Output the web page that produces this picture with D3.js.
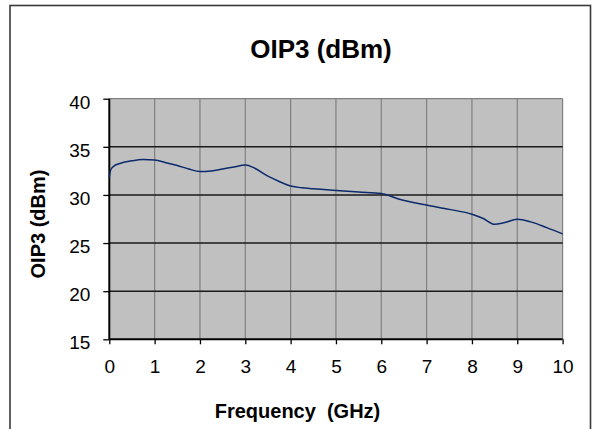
<!DOCTYPE html>
<html><head><meta charset="utf-8">
<script src="https://cdn.jsdelivr.net/npm/d3@7"></script>
<style>body{margin:0;background:#fff}svg{display:block}text{font-family:"Liberation Sans",Arial,sans-serif;fill:#000}</style>
</head><body><svg id="c" width="592" height="429"></svg>
<script>
const chartTitle = "OIP3 (dBm)";
const xTitle = "Frequency  (GHz)";
const yTitle = "OIP3 (dBm)";
const xTicks = [0,1,2,3,4,5,6,7,8,9,10];
const yTicks = [15,20,25,30,35,40];
const freq = [0,0.03,0.1,0.25,0.5,0.75,1,1.25,1.5,1.75,2,2.25,2.5,2.75,3,3.2,3.5,3.75,4,4.25,4.5,5,5.5,6,6.4,7,7.5,8,8.25,8.5,8.7,9,9.3,9.65,10];
const oip3 = [31.8,32.6,33.0,33.3,33.55,33.68,33.62,33.35,33.05,32.7,32.43,32.5,32.7,32.9,33.1,32.8,31.95,31.4,30.93,30.74,30.65,30.47,30.3,30.15,29.55,28.95,28.5,28.0,27.55,26.95,27.1,27.48,27.2,26.6,25.95];

const svg = d3.select("#c");
const L = 109.3, R = 562.6, T = 98.7, B = 339.3;
const x = d3.scaleLinear().domain([0,10]).range([L,R]);
const y = d3.scaleLinear().domain([15,40]).range([B,T]);

svg.append("rect").attr("x",10).attr("y",5.5).attr("width",580.5).attr("height",440)
  .attr("fill","#fff").attr("stroke","#3a3a3a").attr("stroke-width",1.6);

svg.append("rect").attr("x",L).attr("y",T).attr("width",R-L).attr("height",B-T).attr("fill","#c0c0c0");

// vertical gridlines
svg.append("g").selectAll("line").data(xTicks.slice(1)).join("line")
  .attr("x1",d=>x(d)).attr("x2",d=>x(d)).attr("y1",T).attr("y2",B)
  .attr("stroke","#808080").attr("stroke-width",1.2);
// top border
svg.append("line").attr("x1",L).attr("x2",R).attr("y1",T).attr("y2",T).attr("stroke","#808080").attr("stroke-width",1.2);
// horizontal gridlines
svg.append("g").selectAll("line").data(yTicks.slice(1,-1)).join("line")
  .attr("x1",L).attr("x2",R).attr("y1",d=>y(d)).attr("y2",d=>y(d))
  .attr("stroke","#1a1a1a").attr("stroke-width",1.4);

// axes
const xAxis = svg.append("g").attr("transform",`translate(0,${B})`)
  .call(d3.axisBottom(x).tickValues(xTicks).tickSize(5).tickPadding(15).tickFormat(d3.format("d")));
const yAxis = svg.append("g").attr("transform",`translate(${L},0)`)
  .call(d3.axisLeft(y).tickValues(yTicks).tickSize(6).tickPadding(13).tickFormat(d3.format("d")));
[xAxis,yAxis].forEach(a=>{
  a.select(".domain").attr("stroke","#000").attr("stroke-width",2);
  a.selectAll(".tick line").attr("stroke","#000").attr("stroke-width",1.3);
  a.selectAll("text").attr("font-size",19).attr("font-family","Liberation Sans, Arial, sans-serif").attr("fill","#000");
});
yAxis.selectAll("text").attr("dy","0.5em");
yAxis.select(".domain").attr("d",`M0,${T}V${B}`);
xAxis.select(".domain").attr("d",`M${L},0H${R}`);

// data line
const line = d3.line().x((d,i)=>x(freq[i])).y(d=>y(d)).curve(d3.curveMonotoneX);
svg.append("path").datum(oip3).attr("d",line).attr("fill","none")
  .attr("stroke","#0b2a6b").attr("stroke-width",1.5);

// titles
svg.append("text").attr("x",321).attr("y",58).attr("text-anchor","middle")
  .attr("font-size",26).attr("font-weight","bold").text(chartTitle);
svg.append("text").attr("x",297.5).attr("y",418).attr("text-anchor","middle")
  .attr("font-size",20).attr("font-weight","bold").style("white-space","pre").text(xTitle);
svg.append("text").attr("transform","translate(45,224) rotate(-90)").attr("text-anchor","middle")
  .attr("font-size",20).attr("font-weight","bold").text(yTitle);
</script></body></html>
